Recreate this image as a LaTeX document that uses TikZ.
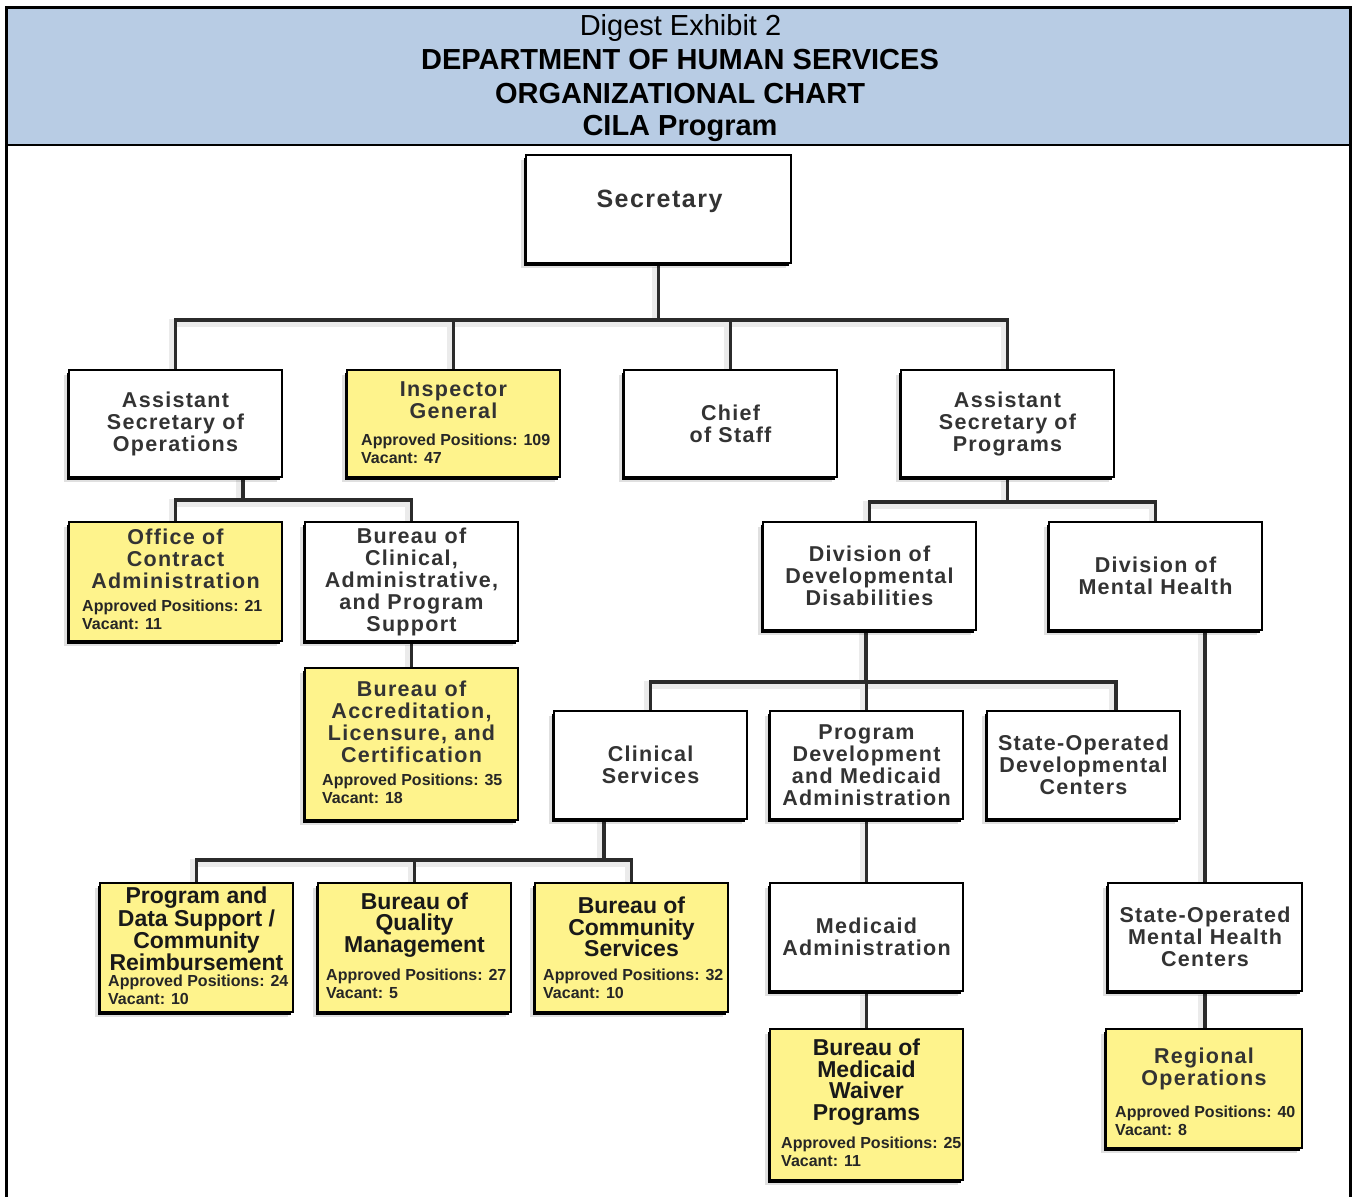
\documentclass[tikz,border=0pt]{standalone}
\usepackage{fontspec}
\setmainfont{Liberation Sans}
\newfontfamily\chartfont{Liberation Sans}[LetterSpace=6]
\usetikzlibrary{shadows,backgrounds}
\definecolor{hdrblue}{HTML}{B8CCE4}
\definecolor{boxyellow}{HTML}{FEF38C}
\definecolor{inkgray}{HTML}{333333}
\definecolor{linegray}{HTML}{2B2B2B}
\tikzset{
  orgbox/.style={draw=black, line width=2pt, fill=white, inner sep=0pt, align=center,
    font=\chartfont\bfseries\fontsize{21.5}{22}\selectfont, text=inkgray,
    drop shadow={shadow xshift=-5pt, shadow yshift=-5pt, fill=black, opacity=0.12},
    drop shadow={shadow xshift=-2.5pt, shadow yshift=-2.5pt, fill=black, opacity=1}},
  ybox/.style={orgbox, fill=boxyellow},
  ttl/.style={inner sep=0pt, align=center, font=\chartfont\bfseries\fontsize{21.5}{22}\selectfont, text=inkgray},
  ttlk/.style={inner sep=0pt, align=center, font=\bfseries\fontsize{23}{21.5}\selectfont, text=black!90},
  stat/.style={inner sep=0pt, align=left, anchor=west, font=\bfseries\fontsize{16}{18}\selectfont, text=black!85},
  hdr/.style={inner sep=0pt, font=\fontsize{29}{34}\selectfont, text=black},
  conn/.style={draw=linegray, line width=3.5pt, line join=miter,
    preaction={draw=black!8, line width=8pt, transform canvas={xshift=-3pt, yshift=-3pt}}}
}
\begin{document}
\begin{tikzpicture}[x=1pt, y=-1pt]
\useasboundingbox (0,0) rectangle (1355,1197);
% header
\fill[hdrblue] (6,7) rectangle (1350,145);
\draw[line width=3pt] (6,1197) -- (6,7) -- (1350,7) -- (1350,1197);
\draw[line width=2pt] (6,145) -- (1350,145);
\node[hdr] (h1) at (680.5,28) {Digest Exhibit 2};
\node[hdr, font=\bfseries\fontsize{29}{34}\selectfont] (h2) at (680,60) {DEPARTMENT OF HUMAN SERVICES};
\node[hdr, font=\bfseries\fontsize{29}{34}\selectfont] (h3) at (680,94) {ORGANIZATIONAL CHART};
\node[hdr, font=\bfseries\fontsize{29}{34}\selectfont] (h4) at (680,128) {CILA Program};

% boxes
\node[orgbox, minimum width=265pt, minimum height=108pt] (sec) at (658.5,209) {};
\node[ttl, font=\chartfont\bfseries\fontsize{25}{26}\selectfont] (sect) at (659.5,201) {Secretary};

\node[orgbox, minimum width=213pt, minimum height=107pt] (aso) at (175.5,423.5) {Assistant\\Secretary of\\Operations};
\node[ybox, minimum width=213pt, minimum height=107pt] (ig) at (453.5,423.5) {};
\node[ttl] (igt) at (453.5,400.5) {Inspector\\General};
\node[stat] (igs) at (361,449) {Approved Positions: 109\\Vacant: 47};
\node[orgbox, minimum width=213pt, minimum height=107pt] (cos) at (730.5,423.5) {Chief\\of Staff};
\node[orgbox, minimum width=213pt, minimum height=107pt] (asp) at (1007.5,423.5) {Assistant\\Secretary of\\Programs};

\node[ybox, minimum width=213pt, minimum height=119pt] (oca) at (175.5,581.5) {};
\node[ttl] (ocat) at (175.5,559) {Office of\\Contract\\Administration};
\node[stat] (ocas) at (82,615) {Approved Positions: 21\\Vacant: 11};
\node[orgbox, minimum width=213pt, minimum height=119pt] (bca) at (411.5,581.5) {Bureau of\\Clinical,\\Administrative,\\and Program\\Support};
\node[ybox, minimum width=213pt, minimum height=152pt] (bal) at (411.5,744) {};
\node[ttl] (balt) at (411.5,722) {Bureau of\\Accreditation,\\Licensure, and\\Certification};
\node[stat] (bals) at (322,789) {Approved Positions: 35\\Vacant: 18};

\node[orgbox, minimum width=213pt, minimum height=108pt] (ddd) at (869.5,576) {Division of\\Developmental\\Disabilities};
\node[orgbox, minimum width=213pt, minimum height=108pt] (dmh) at (1155.5,576) {Division of\\Mental Health};

\node[orgbox, minimum width=193pt, minimum height=108pt] (cs) at (650.5,765) {Clinical\\Services};
\node[orgbox, minimum width=193pt, minimum height=108pt] (pdma) at (866.5,765) {Program\\Development\\and Medicaid\\Administration};
\node[orgbox, minimum width=193pt, minimum height=108pt] (sodc) at (1083.5,765) {State-Operated\\Developmental\\Centers};

\node[orgbox, minimum width=193pt, minimum height=108pt] (ma) at (866.5,937) {Medicaid\\Administration};
\node[orgbox, minimum width=194pt, minimum height=108pt] (somhc) at (1205,937) {State-Operated\\Mental Health\\Centers};

\node[ybox, minimum width=193pt, minimum height=151pt] (bmwp) at (866.5,1104.5) {};
\node[ttlk] (bmwpt) at (866.5,1082) {Bureau of\\Medicaid\\Waiver\\Programs};
\node[stat] (bmwps) at (781,1152) {Approved Positions: 25\\Vacant: 11};

\node[ybox, minimum width=196pt, minimum height=119pt] (ro) at (1204,1088.5) {};
\node[ttl] (rot) at (1204,1069) {Regional\\Operations};
\node[stat] (ros) at (1115,1121) {Approved Positions: 40\\Vacant: 8};

\node[ybox, minimum width=193pt, minimum height=129pt] (pds) at (196.5,947.5) {};
\node[ttlk, font=\bfseries\fontsize{23}{20}\selectfont] (pdst) at (196.5,929) {Program and\\Data Support /\\Community\\Reimbursement};
\node[stat] (pdss) at (108,990) {Approved Positions: 24\\Vacant: 10};
\node[ybox, minimum width=193pt, minimum height=129pt] (bqm) at (414.5,947.5) {};
\node[ttlk] (bqmt) at (414.5,925) {Bureau of\\Quality\\Management};
\node[stat] (bqms) at (326,984) {Approved Positions: 27\\Vacant: 5};
\node[ybox, minimum width=193pt, minimum height=129pt] (bcs) at (631.5,947.5) {};
\node[ttlk] (bcst) at (631.5,927) {Bureau of\\Community\\Services};
\node[stat] (bcss) at (543,984) {Approved Positions: 32\\Vacant: 10};

% connectors
\coordinate (bus1) at (0,320);
\coordinate (bus2) at (0,500);
\coordinate (bus3) at (0,502);
\coordinate (bus4) at (0,682);
\coordinate (bus5) at (0,860);
\coordinate (asodrop) at (243,477);
\coordinate (dddrop) at (866,630);
\coordinate (csdrop) at (604,819);
\coordinate (sodctop) at (1116,711);
\begin{scope}[on background layer]
\draw[conn] (sec.south) -- (sec.south |- bus1);
\draw[conn] (aso.north) -- (aso.north |- bus1) -- (asp.north |- bus1) -- (asp.north);
\draw[conn] (ig.north |- bus1) -- (ig.north);
\draw[conn] (cos.north |- bus1) -- (cos.north);

\draw[conn] (asodrop) -- (asodrop |- bus2);
\draw[conn] (oca.north) -- (oca.north |- bus2) -- (bca.north |- bus2) -- (bca.north);
\draw[conn] (bca.south) -- (bal.north);

\draw[conn] (asp.south) -- (asp.south |- bus3);
\draw[conn] (ddd.north) -- (ddd.north |- bus3) -- (dmh.north |- bus3) -- (dmh.north);

\draw[conn] (dddrop) -- (dddrop |- bus4);
\draw[conn] (cs.north) -- (cs.north |- bus4) -- (sodctop |- bus4) -- (sodctop);
\draw[conn] (pdma.north |- bus4) -- (pdma.north);

\draw[conn] (somhc.north |- dmh.south) -- (somhc.north);
\draw[conn] (somhc.south) -- (somhc.south |- ro.north);
\draw[conn] (pdma.south) -- (ma.north);
\draw[conn] (ma.south) -- (bmwp.north);

\draw[conn] (csdrop) -- (csdrop |- bus5);
\draw[conn] (pds.north) -- (pds.north |- bus5) -- (bcs.north |- bus5) -- (bcs.north);
\draw[conn] (bqm.north |- bus5) -- (bqm.north);
\end{scope}
\end{tikzpicture}
\end{document}
